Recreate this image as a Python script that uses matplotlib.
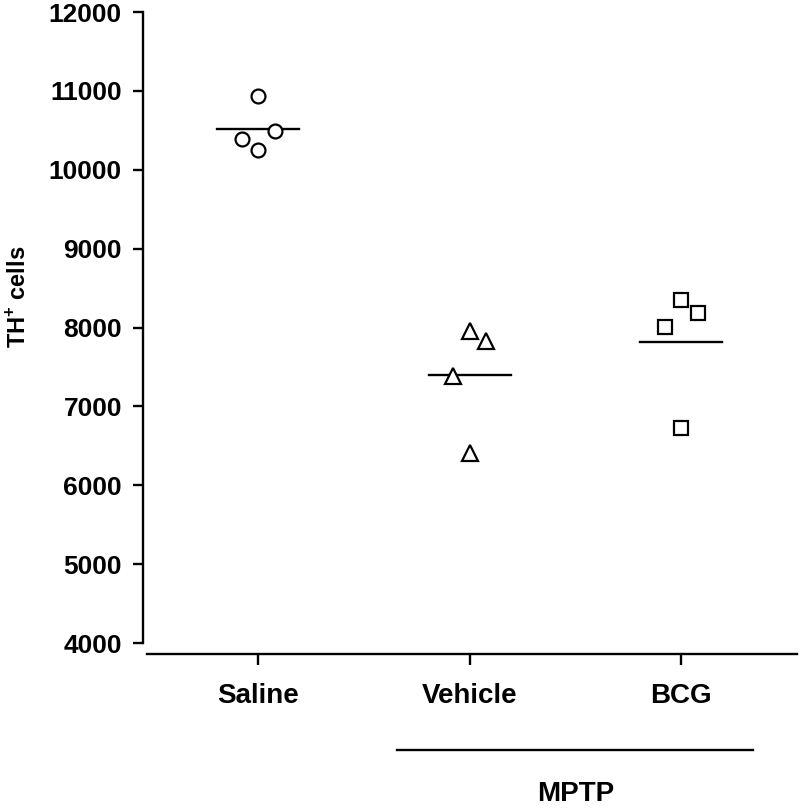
import numpy as np
import matplotlib
matplotlib.use("Agg")
import matplotlib.pyplot as plt
from matplotlib.transforms import blended_transform_factory

# valores (celulas TH+)
grupos = ["Saline", "Vehicle", "BCG"]
saline = [10940, 10497, 10393, 10245]
vehicle = [7960, 7827, 7384, 6414]
bcg = [8355, 8181, 8004, 6731]
y_ticks = [4000, 5000, 6000, 7000, 8000, 9000, 10000, 11000, 12000]

series = [saline, vehicle, bcg]
marcadores = ["o", "^", "s"]
desplaz = [0.0, 0.078, -0.078, 0.0]  # separacion horizontal de los puntos

plt.rcParams["font.family"] = ["Liberation Sans", "DejaVu Sans"]
plt.rcParams["font.weight"] = "bold"
plt.rcParams["mathtext.fontset"] = "custom"
plt.rcParams["mathtext.rm"] = "Liberation Sans:bold"
plt.rcParams["mathtext.bf"] = "Liberation Sans:bold"

fig = plt.figure(figsize=(8, 8.08), dpi=100)
ax = fig.add_axes([0.17875, 0.2042, 0.8175, 0.7809])

for i, (vals, m) in enumerate(zip(series, marcadores)):
    xs = [i + d for d in desplaz]
    ms = 12 if m == "^" else 10
    ax.plot(xs, vals, ls="none", marker=m, ms=ms, mfc="white",
            mec="black", mew=1.6, clip_on=False, zorder=3)
    media = np.mean(vals)
    ax.plot([i - 0.194, i + 0.194], [media, media], color="black", lw=1.7, zorder=2)

ax.set_ylim(4000, 12000)
ax.set_xlim(-0.5437, 2.548)
ax.set_yticks(y_ticks)
ax.set_xticks(range(len(grupos)))
ax.set_xticklabels(grupos)

ax.spines["top"].set_visible(False)
ax.spines["right"].set_visible(False)
ax.spines["left"].set_linewidth(1.7)
ax.spines["bottom"].set_linewidth(1.7)
ax.spines["bottom"].set_position(("outward", 8))
ax.spines["bottom"].set_bounds(-0.525, 2.548)

ax.tick_params(axis="y", length=7.2, width=1.7, pad=8, labelsize=19)
ax.tick_params(axis="x", length=8, width=1.7, pad=13, labelsize=20)
for lab in ax.get_xticklabels() + ax.get_yticklabels():
    lab.set_fontweight("bold")

ax.set_ylabel("TH$^{+}$ cells", fontsize=17, fontweight="bold")
ax.yaxis.set_label_coords(-0.172, 0.548)

# barra y texto MPTP bajo Vehicle y BCG
trans = blended_transform_factory(ax.transData, ax.transAxes)
ax.plot([0.657, 2.340], [-0.1696, -0.1696], color="black", lw=1.7,
        transform=trans, clip_on=False)
ax.text(1.50, -0.2595, "MPTP", transform=trans, ha="center", va="bottom",
        fontsize=20, fontweight="bold")

fig.savefig("out.png", dpi=100)
